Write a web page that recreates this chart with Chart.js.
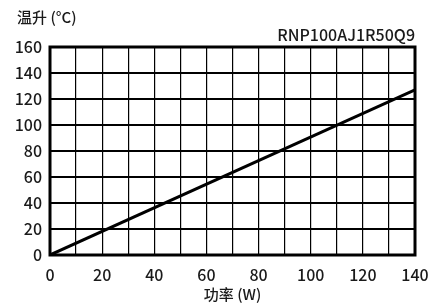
<!DOCTYPE html>
<html>
<head>
<meta charset="utf-8">
<script src="https://cdn.jsdelivr.net/npm/chart.js@4"></script>
<style>
html,body{margin:0;padding:0;background:#fff;}
#wrap{width:443px;height:306px;position:relative;}
</style>
</head>
<body>
<div id="wrap"><canvas id="c" width="443" height="306"></canvas></div>
<script>
const power = [0, 140];
const tempRise = [0, 127];
const xTickLabels = [0, 20, 40, 60, 80, 100, 120, 140];
const yTickLabels = [0, 20, 40, 60, 80, 100, 120, 140, 160];
const yTitle = '温升 (°C)';
const xTitle = '功率 (W)';
const modelName = 'RNP100AJ1R50Q9';

const FONT = "'Noto Sans CJK SC', 'Noto Sans', sans-serif";

const textPlugin = {
  id: 'texts',
  afterDraw(chart) {
    const ctx = chart.ctx, a = chart.chartArea;
    ctx.save();
    ctx.strokeStyle = '#000';
    ctx.lineWidth = 3;
    ctx.strokeRect(a.left, a.top, a.right - a.left, a.bottom - a.top);
    ctx.fillStyle = '#1a1a1a';
    ctx.textBaseline = 'middle';
    ctx.font = "500 15px " + FONT;
    ctx.textAlign = 'left';
    ctx.fillText(yTitle, 17, 17);
    ctx.textAlign = 'right';
    ctx.font = "500 16px " + FONT;
    ctx.fillText(modelName, a.right, 35);
    ctx.textAlign = 'center';
    ctx.font = "500 15px " + FONT;
    ctx.fillText(xTitle, (a.left + a.right) / 2, 294);
    ctx.restore();
  }
};

new Chart(document.getElementById('c'), {
  type: 'scatter',
  data: {
    datasets: [{
      data: power.map((p, i) => ({x: p, y: tempRise[i]})),
      showLine: true,
      borderColor: '#000',
      borderWidth: 3,
      pointRadius: 0,
      fill: false
    }]
  },
  options: {
    responsive: false,
    animation: false,
    events: [],
    layout: {padding: {left: 0, top: 47, right: 28, bottom: 0}},
    plugins: {legend: {display: false}, tooltip: {enabled: false}},
    scales: {
      x: {
        type: 'linear', min: 0, max: 140,
        afterFit(s) { s.height = 51; },
        afterBuildTicks(s) { s.ticks = []; for (let v = 0; v <= 140; v += 10) s.ticks.push({value: v}); },
        ticks: {
          padding: 10,
          color: '#1a1a1a',
          font: {family: FONT, size: 16, weight: '500'},
          maxRotation: 0, autoSkip: false,
          callback: v => xTickLabels.includes(v) ? String(v) : ''
        },
        grid: {color: '#000', lineWidth: 1.2, drawTicks: false},
        border: {display: false}
      },
      y: {
        type: 'linear', min: 0, max: 160,
        afterFit(s) { s.width = 50; },
        afterBuildTicks(s) { s.ticks = yTickLabels.map(v => ({value: v})); },
        ticks: {
          padding: 8,
          color: '#1a1a1a',
          font: {family: FONT, size: 16, weight: '500'},
          autoSkip: false,
          callback: v => String(v)
        },
        grid: {color: '#000', lineWidth: 2, drawTicks: false},
        border: {display: false}
      }
    }
  },
  plugins: [textPlugin]
});
</script>
</body>
</html>
